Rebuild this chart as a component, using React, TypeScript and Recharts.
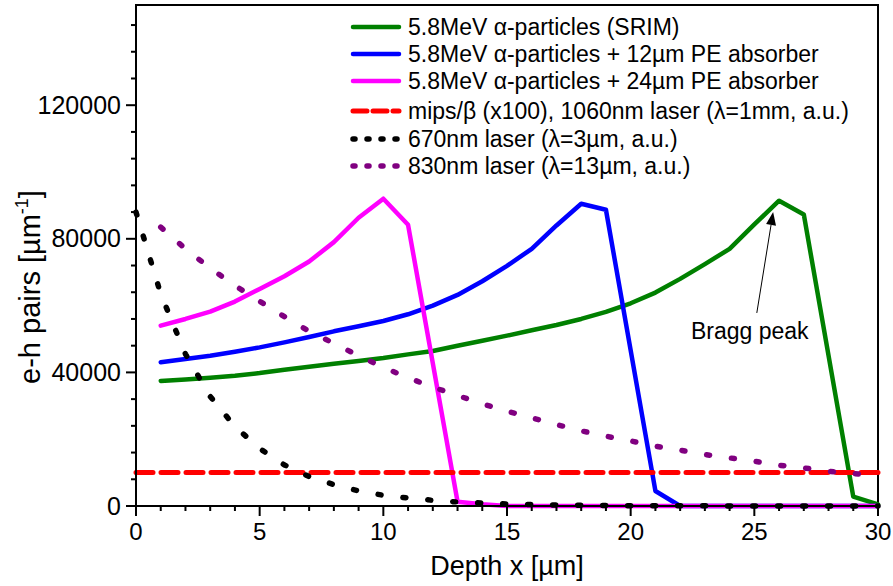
import { LineChart, Line, XAxis, YAxis, ReferenceArea, ReferenceLine } from 'recharts';

// depth [µm] and e-h pairs per µm
const srimX = [1, 2, 3, 4, 5, 6, 7, 8, 9, 10, 11, 12, 13, 14, 15, 16, 17, 18, 19, 20, 21, 22, 23, 24, 25, 26, 27, 29, 30];
const srimY = [37450, 37900, 38400, 39000, 39800, 40800, 41700, 42600, 43400, 44300, 45400, 46400, 48000, 49500, 51000, 52600, 54200, 56000, 58100, 60700, 63900, 68000, 72400, 77000, 84300, 91400, 87300, 2800, 500];

const pe12X = [1, 2, 3, 4, 5, 6, 7, 8, 9, 10, 11, 12, 13, 14, 15, 16, 17, 18, 19, 21, 22, 23, 24, 25, 26, 27, 28, 29, 30];
const pe12Y = [43050, 44000, 45000, 46200, 47500, 49000, 50600, 52300, 53800, 55400, 57400, 60000, 63200, 67300, 71900, 77000, 84000, 90500, 88700, 4500, 0, 0, 0, 0, 0, 0, 0, 0, 0];

const pe24X = [1, 2, 3, 4, 5, 6, 7, 8, 9, 10, 11, 13, 14, 15, 16, 17, 18, 19, 20, 21, 22, 23, 24, 25, 26, 27, 28, 29, 30];
const pe24Y = [54000, 56000, 58200, 61200, 65000, 68800, 73200, 79000, 86300, 92000, 84200, 1300, 500, 0, 0, 0, 0, 0, 0, 0, 0, 0, 0, 0, 0, 0, 0, 0, 0];

const mipsX = [0, 30];
const mipsY = [10000, 10000];

const l670X = [0, 1, 2, 3, 4, 5, 6, 7, 8, 9, 10, 11, 12, 13, 14, 15, 16, 17, 18, 19, 20, 21, 22, 23, 24, 25, 26, 27, 28, 29, 30];
const l670Y = [88000, 63500, 45500, 32800, 23800, 17200, 12300, 8800, 6400, 4500, 3200, 2400, 1700, 1200, 900, 600, 450, 300, 200, 150, 100, 80, 60, 40, 30, 20, 15, 10, 8, 5, 3];

const l830X = [1, 2, 3, 4, 5, 6, 7, 8, 9, 10, 11, 12, 13, 14, 15, 16, 17, 18, 19, 20, 21, 22, 23, 24, 25, 26, 27, 28, 29, 30];
const l830Y = [83500, 77000, 71200, 66000, 61300, 56700, 52300, 48700, 45000, 41500, 38400, 35600, 33100, 30600, 28400, 26400, 24400, 22500, 20900, 19500, 17900, 16700, 15400, 14400, 13400, 12200, 11400, 10400, 9700, 9000];

const xTicks = Array.from({ length: 31 }, (_, i) => i);
const yTicks = Array.from({ length: 19 }, (_, i) => i * 8000);

const FONT = '"Liberation Sans", Arial, sans-serif';

const toPts = (xs: number[], ys: number[]) => xs.map((x, i) => ({ x, y: ys[i] }));

type Series = {
  name: string;
  data: { x: number; y: number }[];
  color: string;
  width: number;
  dash?: string;
  keyDash?: string;
};

const series: Series[] = [
  { name: '5.8MeV α-particles (SRIM)', data: toPts(srimX, srimY), color: '#008000', width: 4.5 },
  { name: '5.8MeV α-particles + 12µm PE absorber', data: toPts(pe12X, pe12Y), color: '#0000ff', width: 4.5 },
  { name: '5.8MeV α-particles + 24µm PE absorber', data: toPts(pe24X, pe24Y), color: '#ff00ff', width: 4.5 },
  { name: 'mips/β (x100), 1060nm laser (λ=1mm, a.u.)', data: toPts(mipsX, mipsY), color: '#ff0000', width: 5, dash: '17 8', keyDash: '14 6' },
  { name: '670nm laser (λ=3µm, a.u.)', data: toPts(l670X, l670Y), color: '#000000', width: 5.5, dash: '3 22', keyDash: '2 12' },
  { name: '830nm laser (λ=13µm, a.u.)', data: toPts(l830X, l830Y), color: '#800080', width: 5.5, dash: '3 22', keyDash: '2 12' },
];

const legendRows = [27, 54, 81, 111, 139, 166];

const XTick = (props: any) => {
  const { x, payload } = props;
  const major = payload.value % 5 === 0;
  return (
    <g>
      <line x1={x} x2={x} y1={506} y2={major ? 516 : 511} stroke="#000" strokeWidth={2} />
      {major && (
        <text x={x} y={540} textAnchor="middle" fontSize={24} fontFamily={FONT} fill="#000">
          {payload.value}
        </text>
      )}
    </g>
  );
};

const YTick = (props: any) => {
  const { y, payload } = props;
  const major = payload.value % 40000 === 0;
  return (
    <g>
      <line x1={major ? 126 : 131} x2={136} y1={y} y2={y} stroke="#000" strokeWidth={2} />
      {major && (
        <text x={121} y={y + 8.5} textAnchor="end" fontSize={25} fontFamily={FONT} fill="#000">
          {payload.value}
        </text>
      )}
    </g>
  );
};

const Arrow = (p: any) => {
  const { x1, y1, x2, y2 } = p;
  const dx = x2 - x1;
  const dy = y2 - y1;
  const len = Math.hypot(dx, dy);
  const ux = dx / len;
  const uy = dy / len;
  const bx = x2 - ux * 13;
  const by = y2 - uy * 13;
  const head = `${x2},${y2} ${bx - uy * 5},${by + ux * 5} ${bx + uy * 5},${by - ux * 5}`;
  return (
    <g>
      <line x1={x1} y1={y1} x2={bx} y2={by} stroke="#000" strokeWidth={1} />
      <polygon points={head} fill="#000" />
      <text x={x1 - 7} y={y1 + 26} textAnchor="middle" fontSize={23} fontFamily={FONT} fill="#000">
        Bragg peak
      </text>
    </g>
  );
};

export default function App() {
  return (
    <div style={{ position: 'absolute', left: 0, top: 0, width: 893, height: 586, background: '#fff' }}>
      <LineChart width={893} height={586} margin={{ top: 5, right: 15, bottom: 0, left: 0 }}>
        <XAxis
          dataKey="x"
          type="number"
          domain={[0, 30]}
          ticks={xTicks}
          interval={0}
          height={80}
          tickLine={false}
          axisLine={{ stroke: '#000', strokeWidth: 2 }}
          tick={<XTick />}
          label={{
            content: (p: any) => (
              <text
                x={p.viewBox.x + p.viewBox.width / 2}
                y={575}
                textAnchor="middle"
                fontSize={27}
                fontFamily={FONT}
                fill="#000"
              >
                Depth x [µm]
              </text>
            ),
          }}
        />
        <YAxis
          type="number"
          domain={[0, 150000]}
          ticks={yTicks}
          interval={0}
          width={136}
          tickLine={false}
          axisLine={{ stroke: '#000', strokeWidth: 2 }}
          tick={<YTick />}
          label={{
            content: () => (
              <text
                x={40}
                y={287}
                transform="rotate(-90, 40, 287)"
                textAnchor="middle"
                fontSize={29}
                fontFamily={FONT}
                fill="#000"
              >
                e-h pairs [µm
                <tspan dy={-12} fontSize={18}>-1</tspan>
                <tspan dy={12}>]</tspan>
              </text>
            ),
          }}
        />
        {series.map((s) => (
          <Line
            key={s.name}
            data={s.data}
            dataKey="y"
            name={s.name}
            type="linear"
            stroke={s.color}
            strokeWidth={s.width}
            strokeDasharray={s.dash}
            strokeLinecap="round"
            strokeLinejoin="round"
            dot={false}
            activeDot={false}
            isAnimationActive={false}
          />
        ))}
        <ReferenceLine
          segment={[
            { x: 25.1, y: 57800 },
            { x: 25.76, y: 88000 },
          ]}
          shape={<Arrow />}
        />
        <ReferenceArea x1={0} x2={30} y1={0} y2={150000} fill="none" stroke="#000" strokeWidth={2} />
      </LineChart>
      {series.map((s, i) => (
        <div
          key={s.name}
          style={{
            position: 'absolute',
            left: 350,
            top: legendRows[i] - 14,
            height: 28,
            display: 'flex',
            alignItems: 'center',
            whiteSpace: 'nowrap',
            fontFamily: FONT,
            fontSize: 23,
            color: '#000',
          }}
        >
          <svg width={52} height={10} style={{ marginRight: 6 }}>
            <line
              x1={3}
              x2={49}
              y1={5}
              y2={5}
              stroke={s.color}
              strokeWidth={s.width}
              strokeDasharray={s.keyDash}
              strokeLinecap="round"
            />
          </svg>
          {s.name}
        </div>
      ))}
    </div>
  );
}
